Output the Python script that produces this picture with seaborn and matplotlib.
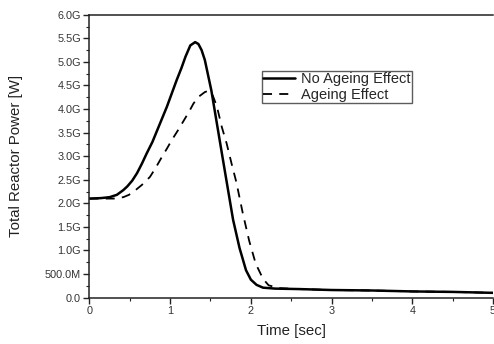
import matplotlib
matplotlib.use("Agg")
import matplotlib.pyplot as plt
import seaborn as sns
import pandas as pd
from matplotlib.ticker import MultipleLocator, FixedLocator

# Data (power in GW)
t_no_ageing = [0.0, 0.14, 0.25, 0.34, 0.42, 0.47, 0.53, 0.59, 0.65, 0.71, 0.78, 0.84, 0.90, 0.96, 1.02, 1.08,
               1.14, 1.19, 1.25, 1.31, 1.35, 1.39, 1.43, 1.47, 1.51, 1.56, 1.60, 1.64, 1.70, 1.78, 1.86,
               1.94, 2.00, 2.07, 2.15, 2.3, 2.6, 3.0, 3.5, 4.0, 4.5, 5.0]
p_no_ageing = [2.10, 2.11, 2.13, 2.18, 2.28, 2.36, 2.48, 2.64, 2.84, 3.06, 3.30, 3.55, 3.80, 4.05, 4.33, 4.61,
               4.87, 5.11, 5.35, 5.42, 5.38, 5.25, 5.04, 4.72, 4.40, 3.89, 3.48, 3.07, 2.46, 1.65, 1.05,
               0.58, 0.38, 0.27, 0.21, 0.19, 0.18, 0.16, 0.15, 0.13, 0.12, 0.10]

t_ageing = [0.0, 0.3, 0.42, 0.49, 0.55, 0.65, 0.75, 0.82, 0.90, 0.96, 1.02, 1.09, 1.16, 1.23, 1.29, 1.36, 1.43,
            1.48, 1.53, 1.58, 1.64, 1.70, 1.76, 1.82, 1.90, 1.98, 2.06, 2.15, 2.22, 2.35, 2.6, 3.0, 3.5, 4.0, 4.5, 5.0]
p_ageing = [2.10, 2.10, 2.13, 2.18, 2.25, 2.39, 2.56, 2.75, 2.99, 3.16, 3.34, 3.53, 3.73, 3.93, 4.12, 4.27, 4.36,
            4.39, 4.28, 4.05, 3.62, 3.27, 2.85, 2.45, 1.79, 1.20, 0.72, 0.40, 0.26, 0.20, 0.18, 0.16, 0.15, 0.13, 0.12, 0.10]

y_tick_vals = [0, 0.5, 1.0, 1.5, 2.0, 2.5, 3.0, 3.5, 4.0, 4.5, 5.0, 5.5, 6.0]
y_tick_labels = ["0.0", "500.0M", "1.0G", "1.5G", "2.0G", "2.5G", "3.0G", "3.5G", "4.0G", "4.5G", "5.0G", "5.5G", "6.0G"]
x_tick_vals = [0, 1, 2, 3, 4, 5]

sns.set_theme(style="ticks")
plt.rcParams['font.family'] = ['Liberation Sans', 'DejaVu Sans']

df1 = pd.DataFrame({"t": t_no_ageing, "p": p_no_ageing})
df2 = pd.DataFrame({"t": t_ageing, "p": p_ageing})

fig = plt.figure(figsize=(4.94, 3.44), dpi=100)
ax = fig.add_axes([0.181, 0.135, 0.817, 0.822])

sns.lineplot(data=df1, x="t", y="p", ax=ax, color="black", linewidth=1.8, label="No Ageing Effect")
sns.lineplot(data=df2, x="t", y="p", ax=ax, color="black", linewidth=1.3, label="Ageing Effect")
ax.lines[1].set_dashes([5, 4])

ax.set_xlim(0, 5)
ax.set_ylim(0, 6.0)
ax.xaxis.set_major_locator(FixedLocator(x_tick_vals))
ax.set_xticklabels([str(v) for v in x_tick_vals])
ax.xaxis.set_minor_locator(MultipleLocator(0.5))
ax.yaxis.set_major_locator(FixedLocator(y_tick_vals))
ax.set_yticklabels(y_tick_labels)
ax.yaxis.set_minor_locator(MultipleLocator(0.25))
ax.tick_params(which="major", direction="out", length=4, width=1, colors="#222222",
               labelcolor="#333333", labelsize=7.8, pad=2)
ax.tick_params(which="minor", direction="out", length=2, width=0.8, colors="#222222")

ax.set_xlabel("Time [sec]", fontsize=10.8, color="#222222")
ax.set_ylabel("Total Reactor Power [W]", fontsize=10.8, color="#222222")
ax.xaxis.set_label_coords(0.5, -0.095)
ax.yaxis.set_label_coords(-0.165, 0.5)

for s in ["left", "bottom", "top"]:
    ax.spines[s].set_color("#222222")
    ax.spines[s].set_linewidth(1.1)
ax.spines["right"].set_visible(False)

leg = ax.legend(loc="upper left", bbox_to_anchor=(0.427, 0.802), fontsize=10.5, frameon=True,
                fancybox=False, edgecolor="#333333", handlelength=2.2, borderpad=0.1,
                labelspacing=0.1, handletextpad=0.4, borderaxespad=0)
leg.get_frame().set_linewidth(1.0)

fig.savefig("out.png", dpi=100)
